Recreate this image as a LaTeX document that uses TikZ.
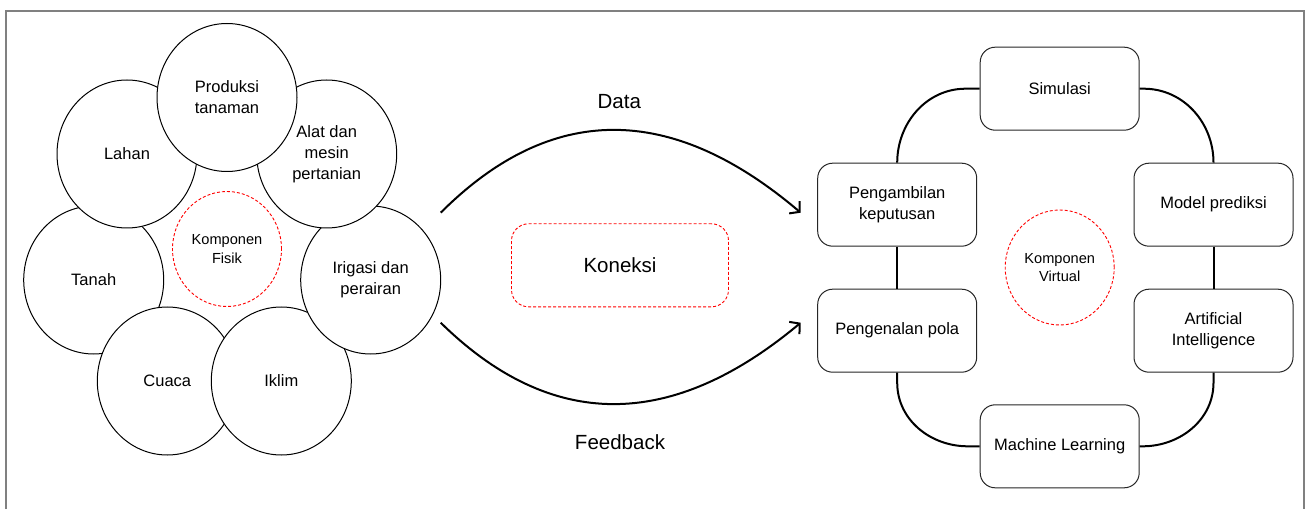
\documentclass[tikz,border=0pt]{standalone}
\usepackage{fontspec}
\setmainfont{Liberation Sans}
\usetikzlibrary{shapes.geometric,arrows.meta}
\newcommand\mainfs{\fontsize{16.5}{21}\selectfont}
\newcommand\bigfs{\fontsize{20.5}{24}\selectfont}
\newcommand\smallfs{\fontsize{14.6}{18.3}\selectfont}
\begin{document}
\begin{tikzpicture}[x=1pt,y=1pt,
  circ/.style={ellipse, draw=black, fill=white, line width=1pt, minimum width=140pt, minimum height=148pt, inner sep=0pt, align=center, font=\mainfs},
  core/.style={ellipse, draw=red, dash pattern=on 3pt off 2pt, line width=0.9pt, minimum width=109pt, minimum height=115pt, inner sep=0pt, align=center, font=\smallfs},
  box/.style={rectangle, rounded corners=15pt, draw=black!85, fill=white, line width=1pt, minimum width=159pt, minimum height=83pt, inner sep=0pt, align=center, font=\mainfs},
  conn/.style={rectangle, rounded corners=17pt, draw=red, dash pattern=on 3pt off 2pt, line width=0.9pt, minimum width=217pt, minimum height=83pt, inner sep=0pt, font=\bigfs},
  lbl/.style={font=\bigfs, inner sep=0pt},
  link/.style={line width=2pt},
  flow/.style={line width=2pt, -{Straight Barb[length=7pt,width=16pt]}},
]
\useasboundingbox (0,0) rectangle (1305,509);
% frame
\draw[black!50, line width=2pt] (6,0) -- (6,498) -- (1304,498) -- (1304,0);

% physical components
\node[circ] (tanah) at (93.7,229) {Tanah};
\node[circ] (cuaca) at (167.3,128) {Cuaca};
\node[circ] (iklim) at (281.3,128) {Iklim};
\node[circ] (irig) at (370.7,229) {Irigasi dan\\perairan};
\node[circ] (alat) at (326.7,355) {Alat dan\\mesin\\pertanian};
\node[circ] (lahan) at (127,355) {Lahan};
\node[circ] (prod) at (227,411.5) {Produksi\\tanaman};
\node[core] (fisik) at (227,260) {Komponen\\Fisik};

% connection
\node[conn] (kon) at (620,243.7) {Koneksi};
\node[lbl] (data) at (619.3,407.3) {Data};
\node[lbl] (fb) at (620,66.7) {Feedback};
\coordinate (d0) at (440.7,296.3);
\coordinate (d1) at (800.7,296.3);
\coordinate (f0) at (440.7,186.3);
\coordinate (f1) at (800.7,186.3);
\draw[flow] (d0) .. controls (551,406.5) and (671,406.5) .. (d1);
\draw[flow] (f0) .. controls (551,78) and (671,78) .. (f1);

% virtual components
\node[box] (sim) at (1059.7,420.3) {Simulasi};
\node[box] (pk) at (897.2,304.3) {Pengambilan\\keputusan};
\node[box] (mp) at (1213.5,304.3) {Model prediksi};
\node[box] (pp) at (897.2,178.3) {Pengenalan pola};
\node[box] (ai) at (1213.5,178.3) {Artificial\\Intelligence};
\node[box] (ml) at (1059.7,62.7) {Machine Learning};
\node[core] (virt) at (1059.7,241.5) {Komponen\\Virtual};

\draw[link] (sim.west) -- ++(-14,0) to[out=180,in=90] (pk.north);
\draw[link] (sim.east) -- ++(4,0) to[out=0,in=90] (mp.north);
\draw[link] (pk.south) -- (pp.north);
\draw[link] (mp.south) -- (ai.north);
\draw[link] (pp.south) -- ++(0,-10) to[out=-90,in=180] ([xshift=-12pt]ml.west) -- (ml.west);
\draw[link] (ai.south) -- ++(0,-10) to[out=-90,in=0] ([xshift=3pt]ml.east) -- (ml.east);
\end{tikzpicture}
\end{document}
